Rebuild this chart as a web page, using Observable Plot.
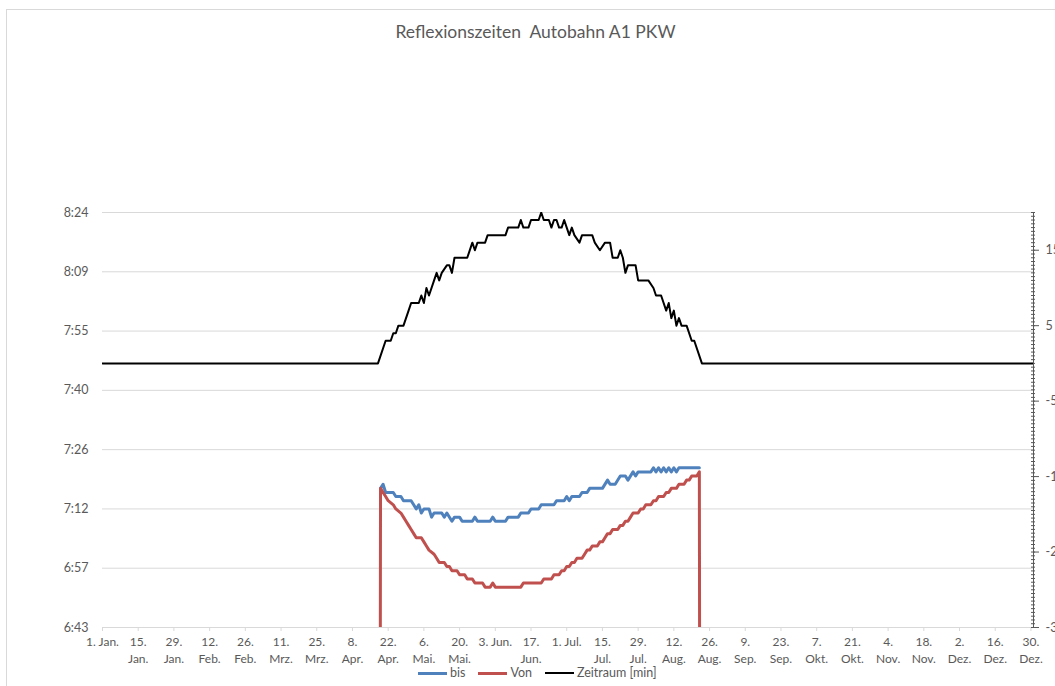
<!DOCTYPE html>
<html><head><meta charset="utf-8">
<script src="https://cdn.jsdelivr.net/npm/d3@7"></script>
<script src="https://cdn.jsdelivr.net/npm/@observablehq/plot@0.6"></script>
<style>
html,body{margin:0;padding:0;background:#fff;overflow:hidden;width:1055px;height:686px}
#wrap{position:relative;width:1055px;height:686px;font-family:Lato,"Open Sans",sans-serif;color:#595959;overflow:hidden}
#border{position:absolute;left:6px;top:9px;width:1300px;height:900px;border-left:1px solid #d9d9d9;border-top:1px solid #d9d9d9;box-sizing:border-box}
#title{position:absolute;left:0;top:21px;width:1071px;text-align:center;font-size:17.5px;line-height:22px;white-space:pre}
#chart{position:absolute;left:0;top:0}
#legend{position:absolute;left:418px;top:665px;display:flex;align-items:center;font-size:12.5px;line-height:16px;white-space:nowrap}
.item{display:flex;align-items:center;margin-right:13px}
.sw{width:29px;margin-right:3px}
</style>
</head><body>
<div id="wrap">
<div id="border"></div>
<div id="chart"></div>
<div id="title"></div>
<div id="legend"></div>
</div>
<script>
// ---- data ----
const year = 2016;
const titleText = "Reflexionszeiten  Autobahn A1 PKW";
const seriesNames = ["bis", "Von", "Zeitraum [min]"];
const seriesColors = ["#4F81BD", "#C0504D", "#000000"];

// left axis: fractions of a day, Excel time labels
const leftTickFractions = [0.28, 0.29, 0.30, 0.31, 0.32, 0.33, 0.34, 0.35];
const leftTickLabels = ["6:43", "6:57", "7:12", "7:26", "7:40", "7:55", "8:09", "8:24"];

// right axis (Zeitraum, minutes)
const rightDomain = [-35, 20];
const rightMajorTicks = [15, 5, -5, -15, -25, -35];
const rightMajorLabels = ["15", "5", "-5", "-15", "-25", "-35"];
const rightMinorStep = 0.5;

// x axis: day offsets from 1 Jan, labels
const xTickDays = [0,14,28,42,56,70,84,98,112,126,140,154,168,182,196,210,224,238,252,266,280,294,308,322,336,350,364];
const xTickLabels = ["1. Jan.","15.\nJan.","29.\nJan.","12.\nFeb.","26.\nFeb.","11.\nMrz.","25.\nMrz.","8.\nApr.","22.\nApr.","6.\nMai.","20.\nMai.","3. Jun.","17.\nJun.","1. Jul.","15.\nJul.","29.\nJul.","12.\nAug.","26.\nAug.","9.\nSep.","23.\nSep.","7.\nOkt.","21.\nOkt.","4.\nNov.","18.\nNov.","2.\nDez.","16.\nDez.","30.\nDez."];

// bis (minutes after midnight), vertices by day offset
const bisDays = [109,110,111,114,115,117,118,121,122,123,124,125,126,128,129,130,133,134,135,137,138,140,141,145,146,147,152,153,154,158,159,163,164,167,168,171,172,177,178,181,182,183,184,187,188,190,191,196,198,199,201,203,205,206,208,209,210,215,216,217,218,219,220,221,222,223,224,225,226,234];
const bisValues = [437,438,436,436,435,435,434,434,433,432,433,431,432,432,430,431,431,430,431,429,430,430,429,429,430,429,429,430,429,429,430,430,431,431,432,432,433,433,434,434,435,434,435,435,436,436,437,437,439,438,438,440,440,439,441,440,441,441,442,441,442,441,442,441,442,441,442,441,442,442];

// Von (minutes after midnight); 0 outside the season
const vonDays = [0,108,109,110,111,112,114,115,117,118,119,120,121,122,123,125,126,127,128,130,131,132,134,135,136,137,139,140,142,143,145,146,149,150,152,153,154,164,165,172,173,176,177,179,180,181,182,183,184,185,186,188,189,190,191,192,194,195,196,197,198,199,200,202,203,204,205,206,207,208,210,211,212,213,215,216,217,218,220,221,222,223,225,226,228,229,230,231,233,234,235,365];
const vonValues = [0,0,437,436,435,434,433,432,431,430,429,428,427,426,425,425,424,423,422,421,420,419,419,418,418,417,417,416,416,415,415,414,414,413,413,414,413,413,414,414,415,415,416,416,417,417,418,418,419,419,420,420,421,422,422,423,423,424,424,425,426,426,427,427,428,428,429,429,430,431,431,432,432,433,433,434,434,435,435,436,436,437,437,438,438,439,439,440,440,441,0,0];

// Zeitraum [min]
const zeitDays = [0,108,111,113,114,115,116,118,120,121,124,125,126,127,128,130,131,132,133,135,136,137,138,143,145,146,147,150,151,158,159,163,164,165,167,168,171,172,173,175,176,177,178,179,180,181,182,183,184,185,187,188,192,193,195,197,199,200,202,203,204,205,206,209,210,214,216,217,219,221,222,223,224,225,226,227,229,231,232,235,365];
const zeitValues = [0,0,3,3,4,4,5,5,7,8,8,9,8,10,9,11,12,11,12,13,13,12,14,14,16,15,16,16,17,17,18,18,19,18,18,19,19,20,19,19,18,19,19,18,18,19,18,17,18,17,16,17,17,16,15,16,16,14,14,15,14,12,13,13,11,11,10,9,9,7,8,6,7,5,6,5,5,3,3,0,0];

// ---- build ----
const day = d => new Date(Date.UTC(year, 0, 1 + d));
const xStart = day(0), xEnd = day(365);
const yMin = leftTickFractions[0] * 1440, yMax = leftTickFractions[leftTickFractions.length - 1] * 1440;
const zToY = z => yMin + (z - rightDomain[0]) * (yMax - yMin) / (rightDomain[1] - rightDomain[0]);

const leftTicks = leftTickFractions.map(f => f * 1440);
const leftLabelMap = new Map(leftTicks.map((v, i) => [v, leftTickLabels[i]]));
const xTicks = xTickDays.map(day);
const xLabelMap = new Map(xTicks.map((d, i) => [+d, xTickLabels[i]]));
const rMajor = rightMajorTicks.map(zToY);
const rLabelMap = new Map(rMajor.map((v, i) => [v, rightMajorLabels[i]]));
const rMinor = d3.range(rightDomain[0], rightDomain[1] + 1e-9, rightMinorStep).map(zToY);

const bis = bisDays.map((d, i) => ({date: day(d), v: bisValues[i]}));
const von = vonDays.map((d, i) => ({date: day(d), v: vonValues[i]}));
const zeit = zeitDays.map((d, i) => ({date: day(d), v: zeitValues[i]}));

const chart = Plot.plot({
  width: 1055, height: 686,
  marginLeft: 102, marginRight: 22, marginTop: 212, marginBottom: 59,
  style: {fontFamily: "Lato, 'Open Sans', sans-serif", fontSize: "12px", color: "#595959", background: "transparent", overflow: "visible"},
  x: {type: "utc", domain: [xStart, xEnd]},
  y: {domain: [yMin, yMax]},
  marks: [
    Plot.gridY(leftTicks, {stroke: "#d9d9d9", strokeOpacity: 1}),
    Plot.axisY(leftTicks, {anchor: "left", tickSize: 0, tickPadding: 14, tickFormat: v => leftLabelMap.get(v), label: null, fill: "#595959", fontSize: 12.5}),
    Plot.axisX(xTicks, {anchor: "bottom", tickSize: 4, tickPadding: 3, tickFormat: d => xLabelMap.get(+d), label: null, stroke: "#d9d9d9", fill: "#595959", fontSize: 12, lineHeight: 1.4}),
    Plot.ruleX([xEnd], {stroke: "#595959", strokeWidth: 1}),
    Plot.axisY(rMinor, {anchor: "right", tickSize: 4, dx: -3, tickFormat: () => "", label: null, stroke: "#595959"}),
    Plot.axisY(rMajor, {anchor: "right", tickSize: 5, tickPadding: 7, tickFormat: v => rLabelMap.get(v), label: null, stroke: "#595959", fill: "#595959", fontSize: 12.5, textAnchor: "start"}),
    Plot.line(bis, {x: "date", y: "v", stroke: seriesColors[0], strokeWidth: 3, clip: true}),
    Plot.line(von, {x: "date", y: "v", stroke: seriesColors[1], strokeWidth: 3, clip: true}),
    Plot.line(zeit, {x: "date", y: d => zToY(d.v), stroke: seriesColors[2], strokeWidth: 2, clip: true})
  ]
});
document.getElementById("chart").appendChild(chart);
document.getElementById("title").textContent = titleText;

const legend = document.getElementById("legend");
seriesNames.forEach((name, i) => {
  const it = document.createElement("div");
  it.className = "item";
  const sw = document.createElement("div");
  sw.className = "sw";
  sw.style.height = (i === 2 ? 2 : 3) + "px";
  sw.style.background = seriesColors[i];
  const lb = document.createElement("span");
  lb.textContent = name;
  it.appendChild(sw); it.appendChild(lb);
  legend.appendChild(it);
});
</script>
</body></html>
